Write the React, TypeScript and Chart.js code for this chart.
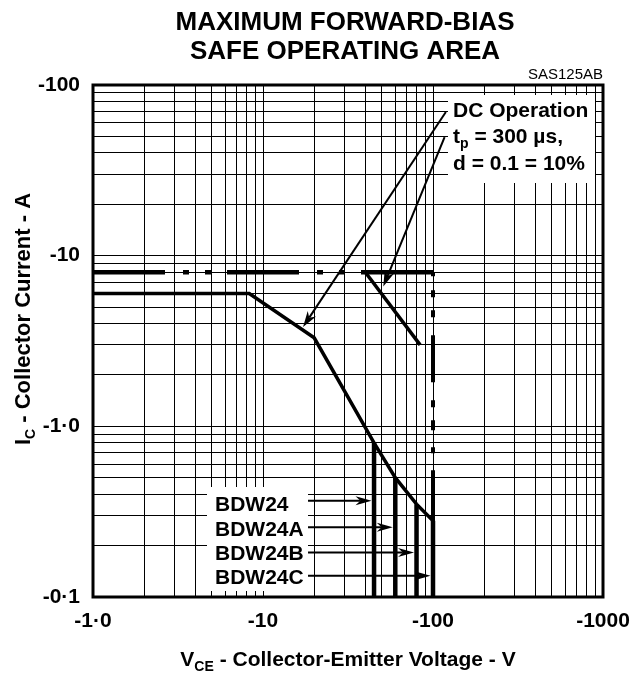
import React, { useEffect, useRef } from 'react';
import { Chart, registerables } from 'chart.js';

Chart.register(...registerables);

const FONT = '"Liberation Sans", Arial, Helvetica, sans-serif';

// Axis tick labels
const X_LABEL_VALUES = [1, 10, 100, 1000];
const X_LABEL_TEXT = ['-1·0', '-10', '-100', '-1000'];
const Y_LABEL_VALUES = [0.1, 1, 10, 100];
const Y_LABEL_TEXT = ['-0·1', '-1·0', '-10', '-100'];
const GRID_STEPS = [1, 2, 3, 4, 5, 6, 7, 8, 9];

// DC operation limit
const DC_V = [1, 8.3, 20, 45, 60, 80, 100];
const DC_I = [6, 6, 3.3, 0.8, 0.5, 0.35, 0.28];

// Pulse (tp = 300 us, d = 10%) limit
const PULSE_DASH_V = [1, 40];
const PULSE_DASH_I = [8, 8];
const PULSE_SOLID_V = [40, 100];
const PULSE_SOLID_I = [8, 8];
const PULSE_DIAG_V = [40, 84];
const PULSE_DIAG_I = [8, 3.0];
const PULSE_VERT_V = [100, 100];
const PULSE_VERT_I = [8, 0.1];

// Device VCEO limits
const DEVICE_NAMES = ['BDW24', 'BDW24A', 'BDW24B', 'BDW24C'];
const DEVICE_VCEO = [45, 60, 80, 100];
const DEVICE_I_TOP = [0.8, 0.5, 0.35, 0.28];
const DEVICE_ARROW_I = [0.366, 0.256, 0.182, 0.133];
const DEVICE_ARROW_FROM_V = 18.4;

// Annotation arrows (from -> to, in data units)
const DC_ARROW_FROM = [119, 69.5];
const DC_ARROW_TO = [17.2, 3.82];
const TP_ARROW_FROM = [117, 49.5];
const TP_ARROW_TO = [51, 6.6];

function pts(xs: number[], ys: number[]) {
  return xs.map((x, i) => ({ x, y: ys[i] }));
}

function gridValues(decades: number[], last: number) {
  const out: number[] = [];
  decades.forEach((d) => GRID_STEPS.forEach((s) => out.push(d * s)));
  out.push(last);
  return out;
}

function labelFor(v: number, values: number[], texts: string[]) {
  for (let i = 0; i < values.length; i++) {
    if (Math.abs(v - values[i]) / values[i] < 1e-6) return texts[i];
  }
  return '';
}

function arrow(ctx: CanvasRenderingContext2D, x0: number, y0: number, x1: number, y1: number, len: number, w: number, lw: number) {
  const dx = x1 - x0, dy = y1 - y0;
  const L = Math.hypot(dx, dy);
  const ux = dx / L, uy = dy / L;
  const nx = -uy, ny = ux;
  const notchX = x1 - ux * len * 0.7, notchY = y1 - uy * len * 0.7;
  ctx.save();
  ctx.strokeStyle = '#000';
  ctx.fillStyle = '#000';
  ctx.lineWidth = lw;
  ctx.beginPath();
  ctx.moveTo(x0, y0);
  ctx.lineTo(notchX, notchY);
  ctx.stroke();
  ctx.beginPath();
  ctx.moveTo(x1, y1);
  ctx.lineTo(x1 - ux * len + nx * w, y1 - uy * len + ny * w);
  ctx.lineTo(notchX, notchY);
  ctx.lineTo(x1 - ux * len - nx * w, y1 - uy * len - ny * w);
  ctx.closePath();
  ctx.fill();
  ctx.restore();
}

type Part = { t: string; sub?: boolean };

function richWidth(ctx: CanvasRenderingContext2D, parts: Part[], size: number, subSize: number) {
  let w = 0;
  parts.forEach((p) => {
    ctx.font = `bold ${p.sub ? subSize : size}px ${FONT}`;
    w += ctx.measureText(p.t).width;
  });
  return w;
}

function drawRich(ctx: CanvasRenderingContext2D, parts: Part[], x: number, y: number, size: number, subSize: number, subDrop: number) {
  let cx = x;
  ctx.textBaseline = 'alphabetic';
  ctx.textAlign = 'left';
  parts.forEach((p) => {
    ctx.font = `bold ${p.sub ? subSize : size}px ${FONT}`;
    ctx.fillText(p.t, cx, p.sub ? y + subDrop : y);
    cx += ctx.measureText(p.t).width;
  });
}

const annotationPlugin = {
  id: 'annotations',
  beforeDatasetsDraw(chart: any) {
    const ctx = chart.ctx as CanvasRenderingContext2D;
    ctx.save();
    ctx.fillStyle = '#fff';
    ctx.fillRect(448, 95, 147, 88);
    ctx.fillRect(207, 487, 101, 104);
    ctx.restore();
  },
  afterDatasetsDraw(chart: any) {
    const ctx = chart.ctx as CanvasRenderingContext2D;
    const xs = chart.scales.x;
    const ys = chart.scales.y;
    const a = chart.chartArea;
    const X = (v: number) => xs.getPixelForValue(v);
    const Y = (v: number) => ys.getPixelForValue(v);

    // frame
    ctx.save();
    ctx.strokeStyle = '#000';
    ctx.lineWidth = 3;
    ctx.strokeRect(a.left, a.top, a.right - a.left, a.bottom - a.top);
    ctx.restore();

    // annotation arrows
    arrow(ctx, X(DC_ARROW_FROM[0]), Y(DC_ARROW_FROM[1]), X(DC_ARROW_TO[0]), Y(DC_ARROW_TO[1]), 16, 5, 2);
    arrow(ctx, X(TP_ARROW_FROM[0]), Y(TP_ARROW_FROM[1]), X(TP_ARROW_TO[0]), Y(TP_ARROW_TO[1]), 16, 5, 2);
    DEVICE_VCEO.forEach((v, i) => {
      const y = Y(DEVICE_ARROW_I[i]);
      arrow(ctx, X(DEVICE_ARROW_FROM_V), y, X(v) - 2.5, y, 16, 4.5, 2);
    });

    ctx.save();
    ctx.fillStyle = '#000';
    // device labels
    ctx.font = `bold 21px ${FONT}`;
    ctx.textAlign = 'left';
    ctx.textBaseline = 'alphabetic';
    const baselines = [511, 536, 560, 584];
    DEVICE_NAMES.forEach((n, i) => ctx.fillText(n, 215, baselines[i]));

    // DC box texts
    ctx.fillText('DC Operation', 453, 117);
    drawRich(ctx, [{ t: 't' }, { t: 'p', sub: true }, { t: ' = 300 µs,' }], 453, 143, 21, 14, 5);
    ctx.font = `bold 21px ${FONT}`;
    ctx.fillText('d = 0.1 = 10%', 453, 170);

    // titles
    ctx.textAlign = 'center';
    ctx.font = `bold 26px ${FONT}`;
    ctx.fillText('MAXIMUM FORWARD-BIAS', 345, 30);
    ctx.fillText('SAFE OPERATING AREA', 345, 59);
    ctx.textAlign = 'right';
    ctx.font = `15px ${FONT}`;
    ctx.fillText('SAS125AB', 603, 79);

    // x axis title
    const xParts: Part[] = [{ t: 'V' }, { t: 'CE', sub: true }, { t: ' - Collector-Emitter Voltage - V' }];
    const xw = richWidth(ctx, xParts, 21, 14);
    drawRich(ctx, xParts, 348 - xw / 2, 666, 21, 14, 5);

    // y axis title
    const yParts: Part[] = [{ t: 'I' }, { t: 'C', sub: true }, { t: ' - Collector Current - A' }];
    const yw = richWidth(ctx, yParts, 22, 14);
    ctx.translate(30, 319);
    ctx.rotate(-Math.PI / 2);
    drawRich(ctx, yParts, -yw / 2, 0, 22, 14, 5);
    ctx.restore();
  },
};

export default function App() {
  const ref = useRef<HTMLCanvasElement | null>(null);

  useEffect(() => {
    if (!ref.current) return;
    const line = (data: any[], width: number, dash: number[] = [], dashOffset = 0) => ({
      data,
      borderColor: '#000',
      borderWidth: width,
      borderDash: dash,
      borderDashOffset: dashOffset,
      borderCapStyle: 'butt',
      borderJoinStyle: 'miter',
      pointRadius: 0,
      fill: false,
      tension: 0,
    });
    const datasets: any[] = [
      line(pts(DC_V, DC_I), 3.5),
      line(pts(PULSE_DASH_V, PULSE_DASH_I), 4.5, [72, 18, 6, 16, 6, 16]),
      line(pts(PULSE_SOLID_V, PULSE_SOLID_I), 4.5),
      line(pts(PULSE_DIAG_V, PULSE_DIAG_I), 3.5),
      line(pts(PULSE_VERT_V, PULSE_VERT_I), 4, [4, 14, 7, 13, 7, 18, 47, 18, 7, 13, 10, 17, 6, 17, 200, 0]),
      ...DEVICE_VCEO.map((v, i) => line([{ x: v, y: DEVICE_I_TOP[i] }, { x: v, y: 0.1 }], 4.5)),
    ];
    const gx = gridValues([1, 10, 100], 1000);
    const gy = gridValues([0.1, 1, 10], 100);
    const chart = new Chart(ref.current, {
      type: 'line',
      data: { datasets },
      options: {
        animation: false,
        responsive: false,
        maintainAspectRatio: false,
        parsing: false as any,
        layout: { padding: { top: 85, right: 29, left: 0, bottom: 0 } },
        plugins: { legend: { display: false }, tooltip: { enabled: false } },
        scales: {
          x: {
            type: 'logarithmic',
            min: 1,
            max: 1000,
            afterBuildTicks: (s: any) => { s.ticks = gx.map((v) => ({ value: v })); },
            afterFit: (s: any) => { s.height = 78; s.paddingLeft = 0; s.paddingRight = 0; },
            ticks: {
              autoSkip: false,
              maxRotation: 0,
              minRotation: 0,
              padding: 12,
              color: '#000',
              font: { family: FONT, size: 21, weight: 'bold' },
              callback: (v: any) => labelFor(Number(v), X_LABEL_VALUES, X_LABEL_TEXT),
            },
            grid: { color: '#000', lineWidth: 1, drawTicks: false },
            border: { display: false },
          },
          y: {
            type: 'logarithmic',
            min: 0.1,
            max: 100,
            afterBuildTicks: (s: any) => { s.ticks = gy.map((v) => ({ value: v })); },
            afterFit: (s: any) => { s.width = 93; s.paddingTop = 0; s.paddingBottom = 0; },
            ticks: {
              autoSkip: false,
              padding: 13,
              color: '#000',
              font: { family: FONT, size: 21, weight: 'bold' },
              callback: (v: any) => labelFor(Number(v), Y_LABEL_VALUES, Y_LABEL_TEXT),
            },
            grid: { color: '#000', lineWidth: 1, drawTicks: false },
            border: { display: false },
          },
        },
      } as any,
      plugins: [annotationPlugin],
    });
    return () => chart.destroy();
  }, []);

  return (
    <div style={{ position: 'fixed', left: 0, top: 0, width: 632, height: 675, background: '#fff' }}>
      <canvas ref={ref} width={632} height={675} style={{ display: 'block', width: 632, height: 675 }} />
    </div>
  );
}
